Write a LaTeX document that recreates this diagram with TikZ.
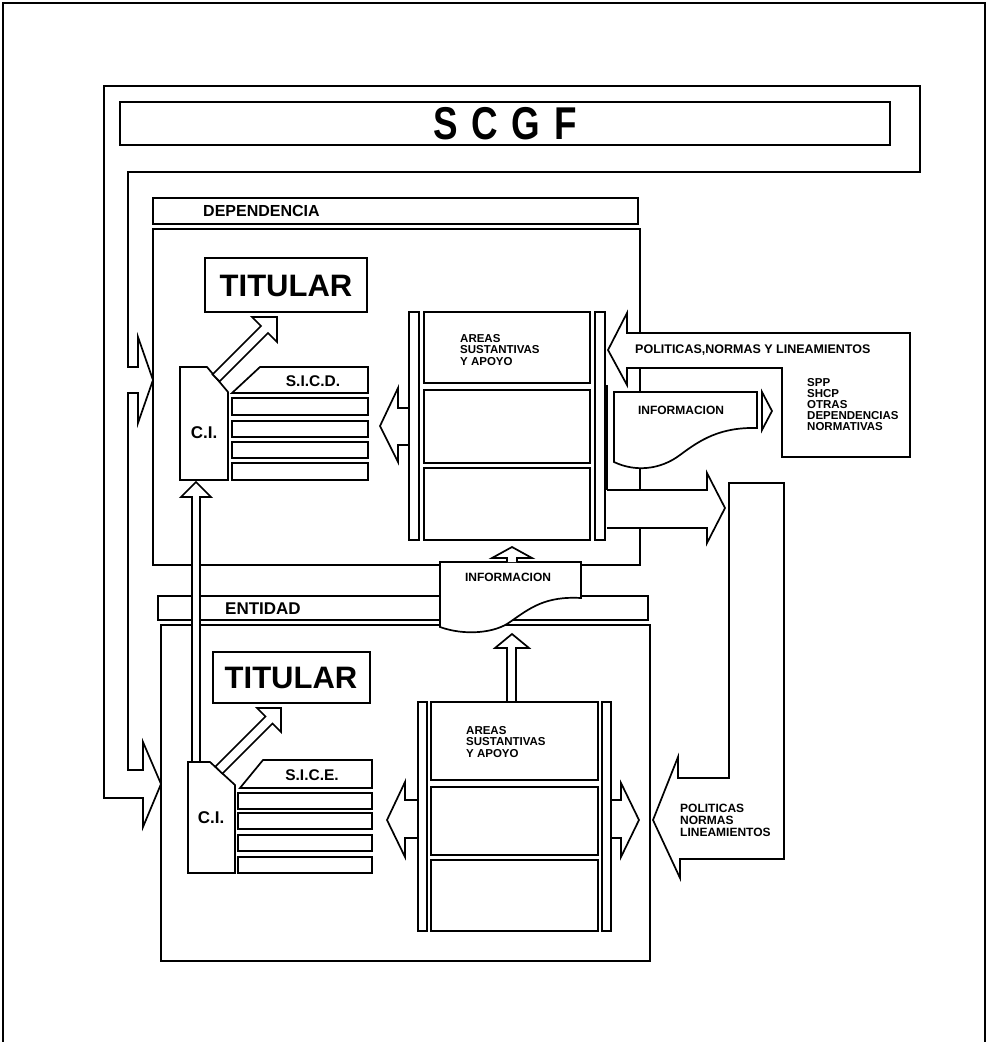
\documentclass[tikz,border=0pt]{standalone}
\usepackage{fontspec}
\setmainfont{Liberation Sans}
\newcommand{\myfs}[2]{\fontsize{#1}{#2}\selectfont}
\tikzset{
  ln/.style={line width=1.7pt, line join=miter},
  wf/.style={ln, fill=white},
  lbl/.style={inner sep=0pt, font=\bfseries},
}
\begin{document}
\begin{tikzpicture}[x=1pt,y=-1pt]
\useasboundingbox (0,0) rectangle (988,1042);
% frame
\draw[line width=1.2pt] (3,1042) -- (3,3) -- (985,3) -- (985,1042);
% SCGF band with arrows
\draw[ln] (104,798) -- (104,86) -- (920,86) -- (920,172) -- (128,172) -- (128,367) -- (138,367) -- (138,337) -- (153,380) -- (138,423) -- (138,393) -- (128,393) -- (128,770) -- (143,770) -- (143,742) -- (161,784) -- (143,827) -- (143,798) -- cycle;
\draw[ln] (120,102) rectangle (890,145);
\node[lbl, font=\bfseries\myfs{46}{46}] (scgf) at (505,124) {\scalebox{0.8}[1]{S\hspace{17pt}C\hspace{17pt}G\hspace{17pt}F}};
% dependencia
\draw[ln] (153,198) rectangle (638,224);
\draw[ln] (153,229) rectangle (640,565);
\node[lbl, anchor=west, font=\bfseries\myfs{16}{16}] (dep) at (203,211) {DEPENDENCIA};
% entidad
\draw[ln] (158,596) rectangle (648,620);
\draw[ln] (161,625) rectangle (650,961);
\node[lbl, anchor=west, font=\bfseries\myfs{17}{17}] (ent) at (225,609) {ENTIDAD};
% vertical hollow arrow C.I. -> C.I.
\draw[wf] (192,762) -- (192,497) -- (181,497) -- (196,482) -- (211,497) -- (200,497) -- (200,762) -- cycle;
% middle INFORMACION document
\draw[wf] (440,562) -- (581,562) -- (581,598) .. controls (545,596) and (530,608) .. (510,622) .. controls (495,633) and (465,636) .. (440,627) -- cycle;
\node[lbl, font=\bfseries\myfs{12}{12}] (infm) at (508,577) {INFORMACION};
\draw[wf] (507,562) -- (507,558) -- (492,558) -- (512,547) -- (532,558) -- (517,558) -- (517,562);
\draw[wf] (507,702) -- (507,648) -- (495,648) -- (512,634) -- (529,648) -- (516,648) -- (516,702);
% POLITICAS arrow and SPP box
\draw[wf] (627,313) -- (627,333) -- (910,333) -- (910,457) -- (782,457) -- (782,368) -- (627,368) -- (627,385) -- (608,350) -- cycle;
\node[lbl, anchor=west, font=\bfseries\myfs{12.5}{12.5}] (pol) at (635,350) {POLITICAS,NORMAS Y LINEAMIENTOS};
\node[lbl, anchor=west, align=left, font=\bfseries\myfs{11.5}{11}] (spp) at (807,405) {SPP\\SHCP\\OTRAS\\DEPENDENCIAS\\NORMATIVAS};
\draw[ln] (607,385) -- (607,490);
% upper INFORMACION document
\draw[wf] (614,392) -- (757,392) -- (757,428) .. controls (720,427) and (700,440) .. (680,455) .. controls (660,470) and (635,472) .. (614,462) -- cycle;
\node[lbl, font=\bfseries\myfs{12}{12}] (infu) at (681,410) {INFORMACION};
\draw[wf] (762,392) -- (772,411) -- (762,430) -- cycle;
% right arrow out of dependencia
\draw[wf] (607,490) -- (707,490) -- (707,473) -- (725,508) -- (707,543) -- (707,528) -- (607,528);
% right channel with POLITICAS arrow to entidad
\draw[wf] (729,483) -- (784,483) -- (784,859) -- (680,859) -- (680,878) -- (653,820) -- (678,757) -- (678,778) -- (729,778) -- cycle;
\node[lbl, anchor=west, align=left, font=\bfseries\myfs{12}{12}] (pol2) at (680,820) {POLITICAS\\NORMAS\\LINEAMIENTOS};
% upper column
\draw[wf] (409,408) -- (398,408) -- (398,388) -- (380,426) -- (398,462) -- (398,445) -- (409,445);
\draw[wf] (409,312) rectangle (419,540);
\draw[wf] (595,312) rectangle (605,540);
\draw[wf] (424,312) rectangle (590,383);
\draw[wf] (424,390) rectangle (590,463);
\draw[wf] (424,468) rectangle (590,540);
\node[lbl, anchor=west, align=left, font=\bfseries\myfs{11.5}{11.5}] (areas1) at (460,350) {AREAS\\SUSTANTIVAS\\Y APOYO};
% lower column
\draw[wf] (418,800) -- (405,800) -- (405,782) -- (387,820) -- (405,857) -- (405,838) -- (418,838);
\draw[wf] (611,800) -- (621,800) -- (621,783) -- (639,820) -- (621,857) -- (621,838) -- (611,838);
\draw[wf] (418,702) rectangle (427,931);
\draw[wf] (602,702) rectangle (611,931);
\draw[wf] (431,702) rectangle (598,780);
\draw[wf] (431,787) rectangle (598,855);
\draw[wf] (431,860) rectangle (598,931);
\node[lbl, anchor=west, align=left, font=\bfseries\myfs{11.5}{11.5}] (areas2) at (466,742) {AREAS\\SUSTANTIVAS\\Y APOYO};
% upper C.I., S.I.C.D., TITULAR
\draw[wf] (205,258) rectangle (367,312);
\node[lbl, font=\bfseries\myfs{31}{31}] (tit1) at (286,286) {TITULAR};
\draw[wf] (180,367) -- (207,367) -- (228,392) -- (228,480) -- (180,480) -- cycle;
\node[lbl, font=\bfseries\myfs{17}{17}] (ci1) at (204,433) {C.I.};
\draw[wf] (260,367) -- (368,367) -- (368,393) -- (232,393) -- cycle;
\node[lbl, font=\bfseries\myfs{15.5}{15.5}] (sicd) at (313,381) {S.I.C.D.};
\foreach \a/\b in {398/415, 421/437, 442/458, 463/480} \draw[wf] (232,\a) rectangle (368,\b);
\draw[wf] (212.6,374.4) -- (261,326) -- (252,317) -- (277,317) -- (277,342) -- (268,333) -- (219.6,381.4) -- cycle;
% lower C.I., S.I.C.E., TITULAR
\draw[wf] (213,652) rectangle (370,703);
\node[lbl, font=\bfseries\myfs{31}{31}] (tit2) at (291,678) {TITULAR};
\draw[wf] (188,762) -- (210,762) -- (235,785) -- (235,873) -- (188,873) -- cycle;
\node[lbl, font=\bfseries\myfs{17}{17}] (ci2) at (211,818) {C.I.};
\draw[wf] (263,760) -- (372,760) -- (372,788) -- (240,788) -- cycle;
\node[lbl, font=\bfseries\myfs{15.5}{15.5}] (sice) at (312,775) {S.I.C.E.};
\foreach \a/\b in {793/809, 813/829, 835/851, 857/873} \draw[wf] (238,\a) rectangle (372,\b);
\draw[wf] (215.4,766.6) -- (265.5,716.5) -- (257,708) -- (281,708) -- (281,732) -- (272.5,723.5) -- (222.4,773.6) -- cycle;
\end{tikzpicture}
\end{document}
